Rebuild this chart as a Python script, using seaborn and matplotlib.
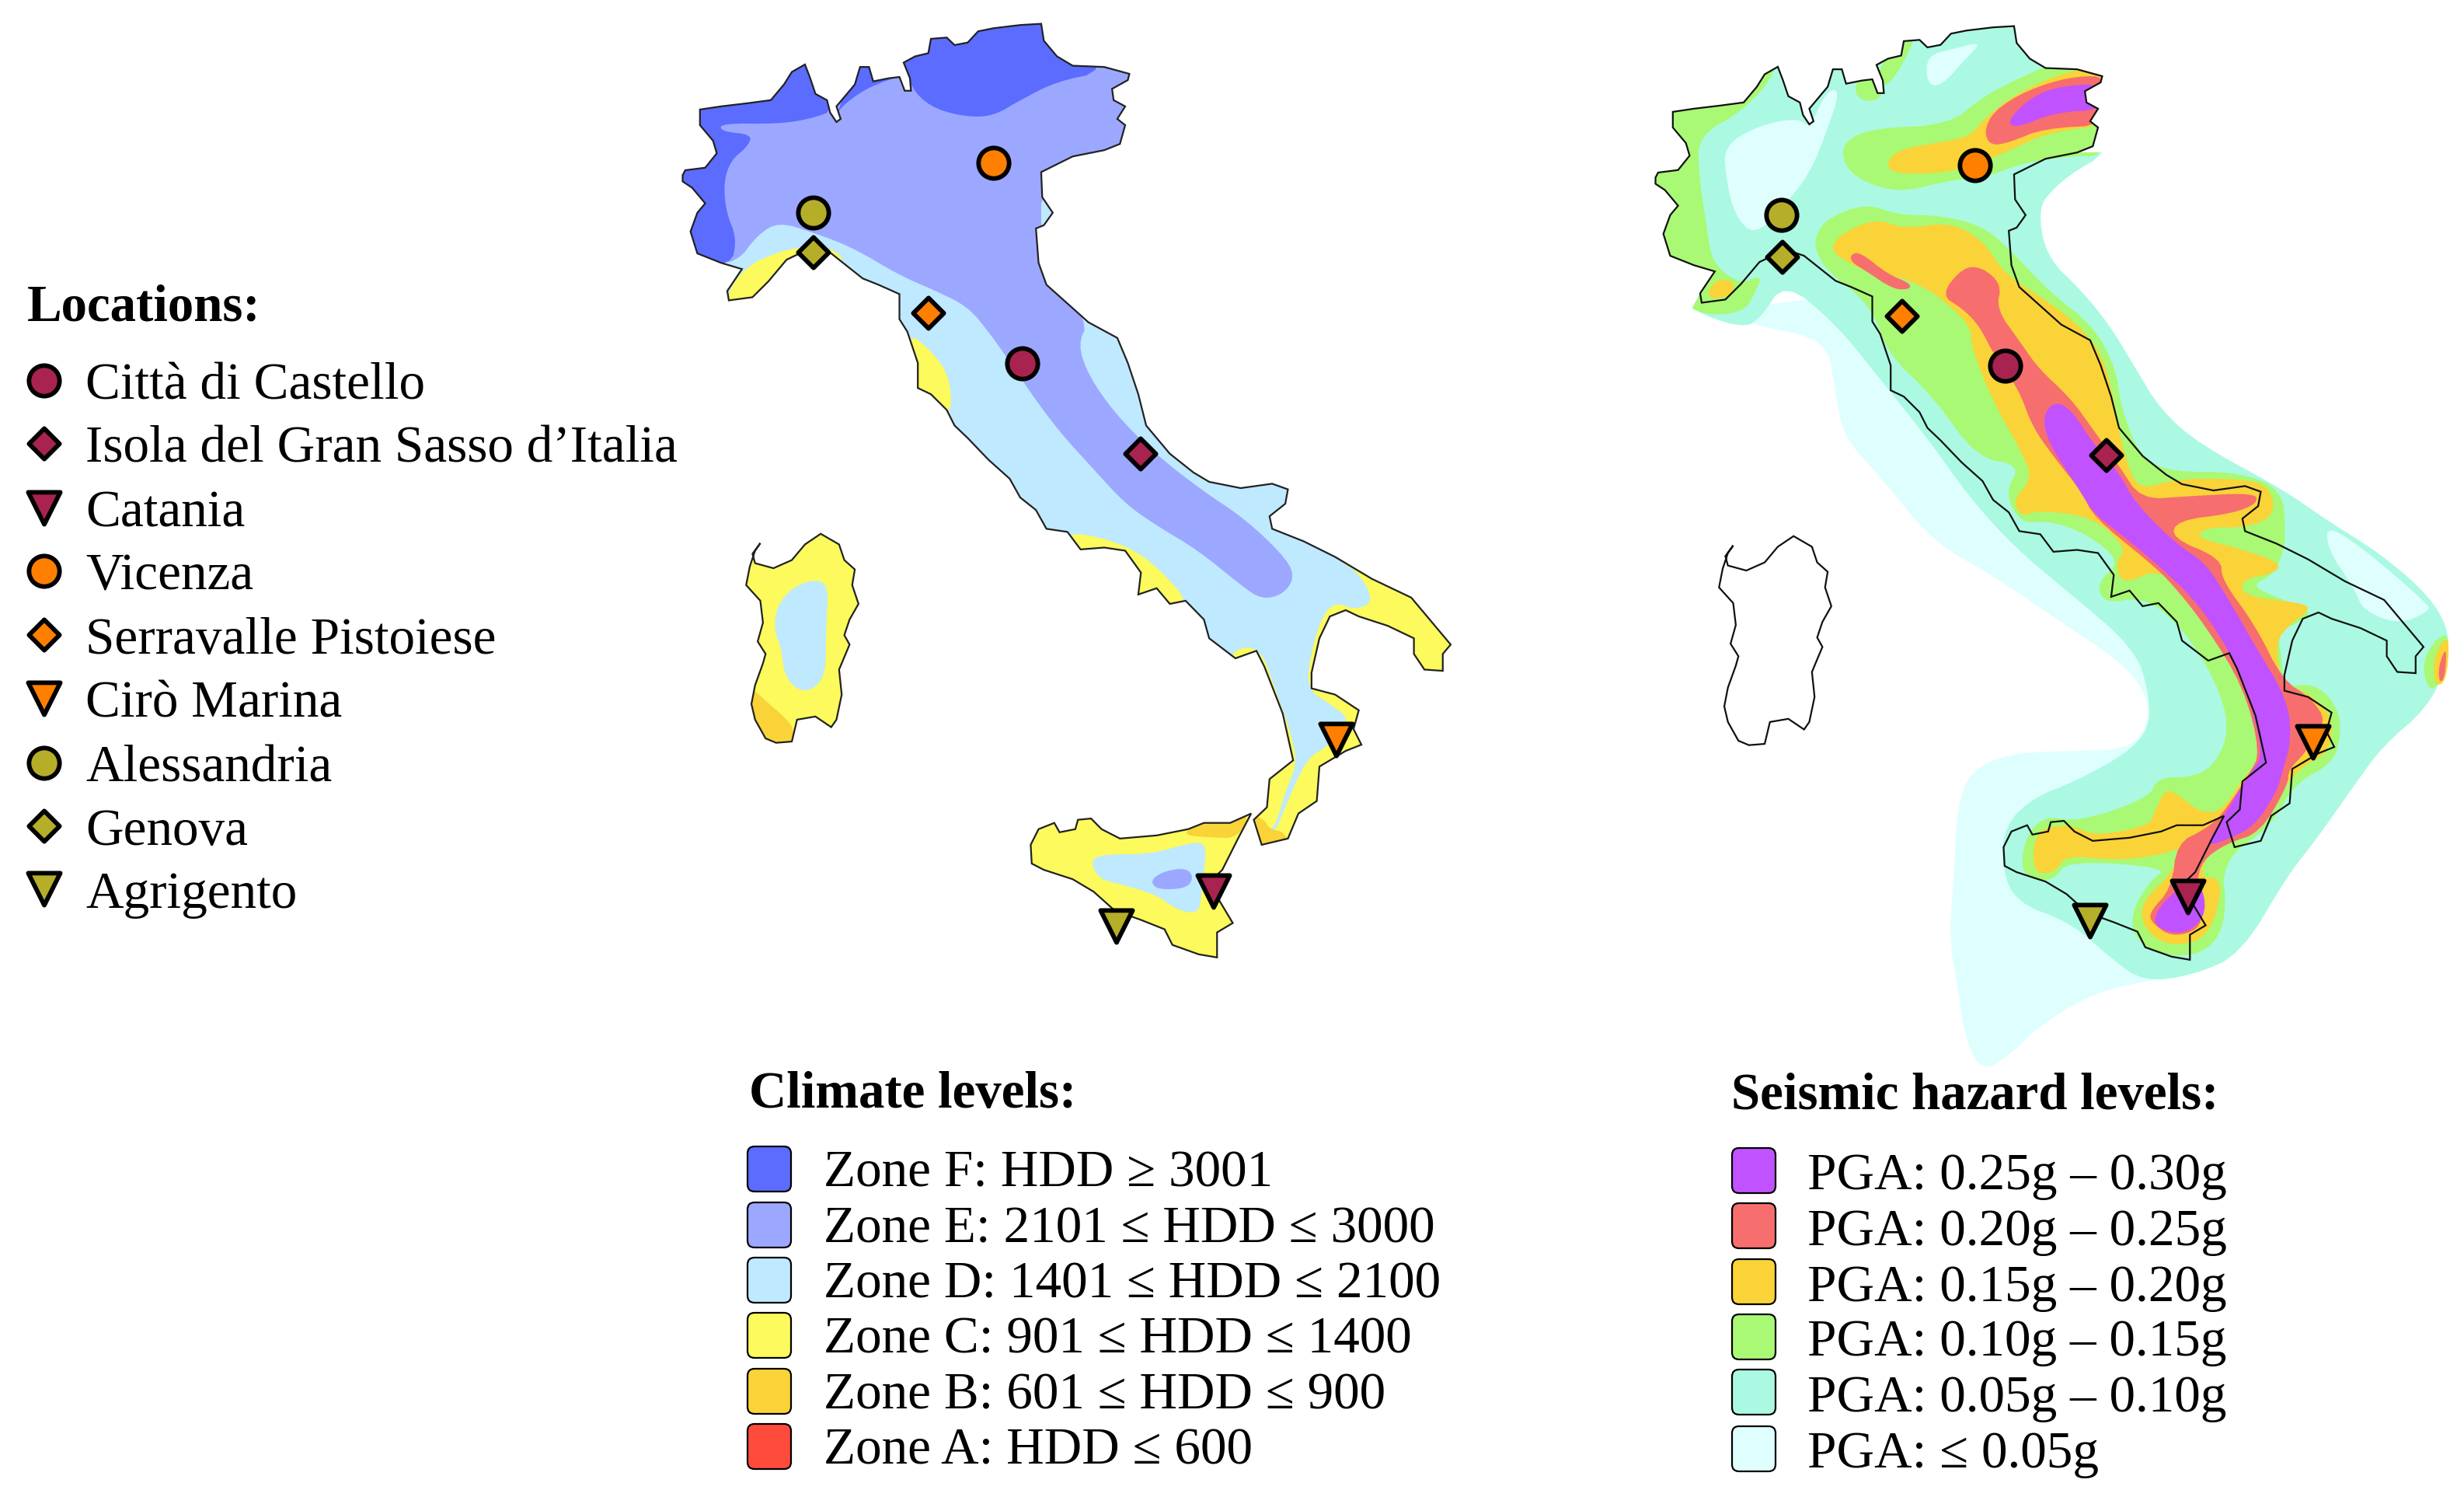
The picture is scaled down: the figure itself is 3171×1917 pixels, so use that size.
import numpy as np
import pandas as pd
import matplotlib
matplotlib.use("Agg")
import matplotlib.pyplot as plt
from matplotlib.patches import FancyBboxPatch, Polygon
import seaborn as sns

sns.set_style("white")
plt.rcParams["font.family"] = ["Liberation Serif", "DejaVu Serif"]
plt.rcParams["text.color"] = "black"

# ---------- data ----------
cities = ["Città di Castello", "Isola del Gran Sasso d’Italia", "Catania", "Vicenza",
          "Serravalle Pistoiese", "Cirò Marina", "Alessandria", "Genova", "Agrigento"]
city_colors = ["#A8234F", "#A8234F", "#A8234F", "#FF7F00", "#FF7F00", "#FF7F00",
               "#B5AE28", "#B5AE28", "#B5AE28"]
city_markers = ["o", "D", "v", "o", "D", "v", "o", "D", "v"]
left_x = [1316, 1468, 1562, 1279, 1195, 1720, 1047, 1047, 1437]
left_y = [468, 584, 1147, 210, 403, 952, 274, 325, 1192]
right_x = [2581, 2711, 2816, 2542, 2448, 2977, 2293, 2294, 2690]
right_y = [471, 586, 1154, 213, 407, 955, 277, 331, 1185]
key_y = [490, 571, 654, 735, 817, 899, 982, 1063, 1144]

climate_labels = ["Zone F: HDD ≥ 3001", "Zone E: 2101 ≤ HDD ≤ 3000", "Zone D: 1401 ≤ HDD ≤ 2100",
                  "Zone C: 901 ≤ HDD ≤ 1400", "Zone B: 601 ≤ HDD ≤ 900", "Zone A: HDD ≤ 600"]
climate_colors = ["#5B6CFF", "#9CA8FF", "#BFE9FF", "#FCFA5C", "#FAD338", "#FF4B3B"]
climate_y = [1504, 1576, 1647, 1718, 1790, 1861]
seismic_labels = ["PGA: 0.25g – 0.30g", "PGA: 0.20g – 0.25g", "PGA: 0.15g – 0.20g",
                  "PGA: 0.10g – 0.15g", "PGA: 0.05g – 0.10g", "PGA: ≤ 0.05g"]
seismic_colors = ["#C152FF", "#F76E6E", "#FAD338", "#A9F974", "#ABF9E2", "#DFFFFF"]
seismic_y = [1506, 1577, 1649, 1720, 1791, 1864]

# map outlines
mainland = [(57,280),(62,272),(100,268),(122,245),(115,225),(90,200),(90,175),(130,170),(180,165),(225,160),
 (250,135),(265,115),(290,103),(300,125),(310,150),(332,160),(338,180),(350,195),(358,190),(350,170),(370,150),
 (385,135),(395,107),(412,107),(420,130),(450,125),(470,123),(480,145),(492,145),(490,125),(478,100),(500,90),
 (525,85),(530,62),(560,60),(575,72),(600,68),(620,50),(650,45),(700,40),(740,38),(745,65),(770,90),(800,105),
 (860,107),(908,118),(905,128),(875,142),(878,160),(900,170),(885,190),(900,200),(890,230),(860,240),(800,250),
 (740,275),(742,315),(762,340),(745,360),(730,365),(735,420),(750,455),(790,485),(830,515),(885,540),(905,580),
 (925,630),(940,680),(985,725),(1030,755),(1060,770),(1120,780),(1180,773),(1210,782),(1205,805),(1175,825),
 (1180,845),(1240,865),(1300,890),(1370,925),(1445,955),(1490,1000),(1520,1030),(1505,1045),(1505,1072),
 (1470,1070),(1450,1045),(1450,1020),(1400,1000),(1345,985),(1320,975),(1290,985),(1270,1020),(1255,1075),
 (1255,1100),(1300,1110),(1345,1135),(1335,1165),(1350,1190),(1320,1200),(1270,1225),(1265,1280),(1230,1300),
 (1210,1340),(1160,1350),(1145,1310),(1170,1290),(1175,1245),(1220,1215),(1200,1140),(1165,1065),(1150,1040),
 (1110,1052),(1060,1020),(1050,990),(1015,960),(985,965),(960,940),(925,950),(930,915),(900,880),(860,875),
 (815,878),(790,850),(750,845),(730,815),(700,795),(680,765),(640,735),(600,700),(575,680),(560,655),(530,630),
 (505,620),(505,580),(485,530),(470,510),(470,470),(430,455),(400,445),(370,425),(340,405),(305,395),(255,415),
 (220,450),(190,475),(145,480),(142,465),(170,430),(130,420),(85,405),(72,370),(85,340),(100,325),(75,300),(57,290)]
sardinia = [(205,868),(190,885),(195,900),(230,908),(265,895),(290,870),(320,853),(355,870),(365,895),(385,910),
 (380,935),(392,965),(375,990),(365,1015),(375,1030),(355,1070),(360,1110),(350,1150),(340,1162),(310,1145),
 (275,1150),(265,1185),(235,1187),(215,1180),(195,1150),(188,1125),(195,1095),(210,1060),(215,1045),(200,1025),
 (210,995),(205,960),(178,935),(185,905),(195,880)]
sicily = [(720,1350),(735,1325),(765,1315),(775,1330),(805,1325),(810,1310),(835,1308),(855,1325),(890,1340),
 (960,1335),(1020,1325),(1050,1315),(1100,1315),(1140,1300),(1115,1340),(1085,1390),(1060,1410),(1080,1440),
 (1105,1475),(1075,1490),(1075,1530),(1040,1525),(990,1510),(975,1485),(930,1470),(880,1455),(840,1425),
 (800,1405),(745,1390),(722,1380)]
# the stretch of the outline that bounds the seismic map: Alps from the French border to Trieste, Ligurian end
north_border = mainland[:54]
west_border = mainland[-9:]

# climate zones
zone_e = [(60,100),(480,20),(950,20),(950,250),(740,280),(740,400),(830,515),(810,550),(830,600),(880,660),
 (950,720),(1040,780),(1130,830),(1210,895),(1222,925),(1200,950),(1160,958),(1120,935),(1040,880),(960,840),
 (900,805),(840,750),(780,695),(730,640),(690,590),(640,530),(600,490),(540,465),(470,440),(380,395),(300,370),
 (240,355),(200,375),(160,420),(100,420),(40,300)]
zone_f_west = [(30,270),(70,150),(250,90),(310,80),(350,175),(300,190),(240,198),(130,197),(130,210),(190,215),(180,235),
 (150,255),(135,290),(140,340),(160,380),(150,425),(60,420)]
zone_f_north = [(350,185),(385,100),(420,95),(480,110),(500,150),(540,175),(600,187),(650,185),(700,160),(770,130),(860,115),
 (850,20),(470,20),(480,120),(440,130),(400,145),(360,170)]
zone_c_liguria = [(130,500),(165,430),(260,395),(340,395),(370,420),(300,420),(200,490)]
zone_c_tuscany = [(485,530),(530,560),(565,600),(570,660),(540,660),(480,600)]
zone_c_campania = [(790,850),(860,860),(920,880),(965,910),(1020,960),(990,975),(930,970),(900,900),(800,880)]
zone_c_south = [(1300,895),(1340,910),(1375,960),(1340,975),(1300,962),(1275,985),(1255,1040),(1245,1100),(1290,1125),
 (1330,1150),(1290,1190),(1250,1210),(1225,1250),(1200,1300),(1185,1330),(1140,1360),(1500,1400),(1560,1100),(1560,900)]
zone_c_calabria = [(1090,1060),(1120,1032),(1160,1040),(1185,1100),(1215,1170),(1228,1220),(1205,1265),(1190,1310),
 (1175,1330),(1130,1310),(1150,1270),(1200,1200),(1150,1060)]
zone_b_calabria = [(1140,1300),(1165,1310),(1175,1325),(1205,1330),(1215,1360),(1130,1360)]
sard_d = [(235,970),(270,935),(320,925),(335,945),(330,1000),(330,1080),(300,1105),(270,1100),(250,1075),(245,1035),(232,1010)]
sard_b = [(190,1100),(215,1120),(250,1145),(270,1165),(265,1200),(180,1200),(180,1110)]
sic_b = [(1020,1325),(1050,1310),(1140,1295),(1115,1340),(1060,1338),(1015,1335)]
sic_d = [(833,1375),(860,1365),(950,1365),(1030,1345),(1055,1350),(1050,1395),(1045,1430),(1040,1460),(1000,1455),
 (960,1430),(900,1415),(850,1405)]
sic_e = [(950,1405),(975,1392),(1015,1387),(1030,1400),(1020,1418),(980,1422),(955,1418)]

# seismic levels
s0_outer = [(200,450),(300,470),(420,490),(435,560),(450,630),(520,690),(610,780),(720,830),(830,890),(960,960),
 (1000,1010),(995,1050),(960,1080),(860,1082),(750,1085),(680,1110),(655,1160),(650,1250),(640,1350),(655,1420),
 (670,1500),(700,1545),(750,1520),(800,1480),(880,1440),(950,1420),(1100,1400),(1000,1300),(1100,1000),(800,700),(500,420)]
s1_main = [(60,260),(100,130),(240,100),(330,60),(340,100),(385,140),(430,60),(470,85),(520,85),(555,25),(620,30),
 (680,10),(750,0),(790,60),(840,75),(940,85),(950,170),(915,225),(870,245),(830,270),(800,300),(815,370),(880,420),
 (930,470),(975,530),(1020,590),(1090,640),(1240,705),(1320,750),(1420,800),(1505,860),(1540,910),(1535,960),(1500,1020),
 (1420,1075),(1370,1130),(1300,1210),(1250,1260),(1165,1375),(1080,1405),(990,1415),(930,1380),(860,1330),(760,1300),
 (735,1250),(740,1190),(790,1150),(870,1125),(960,1085),(1000,1050),(1000,1000),(975,935),(850,850),(760,790),(680,720),
 (600,630),(510,540),(440,470),(345,405),(300,460),(270,472),(200,455),(150,430),(80,360),(60,300)]
s0_alps = [(235,210),(300,180),(370,170),(390,185),(420,130),(445,130),(420,190),(390,250),(340,300),(290,340),(255,310),(240,260)]
s0_north = [(600,80),(650,70),(700,60),(670,85),(625,125),(600,120)]
s0_puglia = [(1320,755),(1400,800),(1500,870),(1505,880),(1450,900),(1385,880),(1370,850),(1320,790)]
s2_west = [(60,260),(100,130),(235,120),(330,60),(330,105),(270,160),(190,195),(190,250),(205,330),(215,380),(265,410),
 (305,395),(290,425),(270,450),(200,455),(150,430),(80,350),(60,300)]
s2_n1 = [(555,50),(585,50),(530,130),(505,110)]
s2_n2 = [(470,115),(520,110),(520,145),(475,145)]
s2_veneto = [(450,205),(500,185),(640,180),(700,140),(760,115),(830,90),(950,90),(950,170),(890,200),(917,225),(860,225),
 (770,235),(710,255),(640,260),(550,278),(480,260),(450,235)]
s2_main = [(400,340),(420,315),(490,293),(550,310),(620,310),(700,325),(750,360),(820,420),(900,470),(940,530),(950,590),
 (985,660),(1040,680),(1160,680),(1240,705),(1245,770),(1240,800),(1220,830),(1180,845),(1260,870),(1295,885),(1260,900),
 (1230,910),(1240,960),(1240,990),(1300,985),(1340,1020),(1345,1060),(1330,1100),(1260,1130),(1220,1190),(1130,1240),
 (1140,1320),(1110,1370),(1040,1380),(980,1360),(965,1320),(1000,1270),(1035,1250),(850,1240),(830,1270),(770,1265),
 (775,1210),(810,1175),(870,1185),(1000,1150),(1015,1120),(1080,1120),(1120,1100),(1145,1050),(1120,980),(1055,900),
 (990,860),(920,870),(905,840),(950,810),(890,770),(820,750),(770,755),(740,710),(770,670),(690,660),(610,570),(530,510),
 (500,440),(420,390),(400,360)]
s2_tip = [(1490,960),(1510,925),(1540,910),(1535,970),(1505,1000)]
s3_liguria = [(205,420),(225,402),(255,405),(250,425),(215,432)]
s3_veneto = [(527,235),(550,215),(640,203),(680,195),(705,170),(760,135),(860,100),(930,100),(930,180),(820,190),(740,220),
 (680,240),(620,250),(540,250)]
s3_main = [(428,355),(450,335),(510,315),(560,330),(640,320),(700,345),(740,395),(800,425),(870,465),(915,510),(935,570),
 (945,620),(965,680),(985,705),(1050,690),(1165,690),(1215,700),(1228,740),(1180,760),(1100,760),(1085,775),(1160,790),
 (1235,810),(1230,825),(1165,835),(1170,860),(1290,870),(1280,885),(1260,895),(1225,925),(1240,990),(1280,995),(1330,1030),
 (1325,1085),(1270,1105),(1200,1180),(1130,1195),(1085,1265),(1135,1265),(1110,1350),(1040,1365),(990,1340),(985,1300),
 (1040,1260),(1060,1220),(1020,1232),(940,1240),(850,1232),(830,1258),(790,1258),(795,1195),(860,1188),(900,1205),
 (1000,1190),(1010,1170),(1030,1135),(1060,1150),(1090,1170),(1130,1170),(1170,1120),(1205,1090),(1190,1030),(1150,950),
 (1100,880),(1040,830),(1000,825),(990,830),(950,840),(940,810),(960,790),(900,745),(800,735),(770,745),(755,720),(790,690),
 (770,650),(720,580),(680,500),(680,470),(620,425),(560,400),(500,395),(440,370)]
s3_tip = [(1510,955),(1525,925),(1540,920),(1535,980),(1515,990)]
s4_friuli = [(703,190),(720,160),(780,130),(860,110),(930,110),(930,180),(810,185),(750,205),(715,210)]
s4_liguria = [(463,367),(480,363),(530,395),(570,408),(570,417),(540,417),(490,390),(465,378)]
s4_main = [(625,425),(665,385),(700,385),(735,410),(725,445),(770,495),(800,530),(860,575),(900,620),(945,670),(985,720),
 (1070,715),(1190,710),(1195,725),(1150,740),(1050,750),(1040,775),(1130,805),(1130,835),(1190,900),(1240,980),(1290,1005),
 (1320,1040),(1280,1085),(1250,1110),(1250,1130),(1200,1200),(1140,1215),(1095,1240),(1085,1275),(1095,1310),(1090,1340),
 (1040,1350),(1005,1330),(1000,1315),(1040,1280),(1050,1215),(1100,1195),(1130,1175),(1180,1115),(1200,1085),(1170,990),
 (1100,900),(1040,840),(1000,810),(900,745),(880,710),(830,660),(790,615),(765,560),(720,510),(695,470),(665,445)]
s4_tip = [(1520,960),(1535,930),(1532,975),(1522,985)]
s5_friuli = [(745,175),(780,145),(830,125),(920,120),(920,158),(830,162),(760,185)]
s5_main = [(808,600),(830,578),(860,590),(900,640),(945,680),(975,725),(1050,785),(1100,810),(1140,860),(1190,930),(1250,1010),
 (1255,1070),(1240,1110),(1230,1140),(1190,1190),(1140,1210),(1100,1220),(1135,1175),(1180,1115),(1205,1090),(1185,1020),
 (1160,960),(1090,870),(1010,810),(950,770),(900,740),(870,700),(820,640)]
s5_etna = [(1005,1325),(1035,1290),(1090,1265),(1105,1315),(1070,1345),(1025,1342)]

# ---------- helpers ----------
FS = 48.4
FS_BOLD = 48.2
W, H = 3171, 1917
fig = plt.figure(figsize=(W / 100, H / 100), dpi=100)
ax = fig.add_axes([0, 0, 1, 1])
ax.set_xlim(0, W)
ax.set_ylim(H, 0)
ax.axis("off")


def round_off(pts, n=2):
    p = np.asarray(pts, float)
    for _ in range(n):
        q = np.roll(p, -1, axis=0)
        p = np.column_stack([0.75 * p + 0.25 * q, 0.25 * p + 0.75 * q]).reshape(-1, 2)
    return p


def left_map(pts):
    p = np.asarray(pts, float)
    return np.column_stack([840 + p[:, 0] * 1060 / 1569, p[:, 1] * 1260 / 1565])


def right_map(pts):
    p = np.asarray(pts, float)
    return np.column_stack([2050 + p[:, 0] * 1121 / 1566, p[:, 1] * 1400 / 1568])


def fill(pts, color, clip=None, n=2, z=1):
    art = ax.add_patch(Polygon(round_off(pts, n), closed=True, facecolor=color, edgecolor="none", zorder=z))
    if clip is not None:
        art.set_clip_path(clip)
    return art


F, E, D, C, B, A = climate_colors
SHIFT = np.array([1252, 3])
# ---------- left map ----------
land = left_map(mainland)
clip_land = ax.add_patch(Polygon(land, closed=True, facecolor=D, edgecolor="none", zorder=1))
for poly, col in [(zone_e, E), (zone_f_west, F), (zone_f_north, F), (zone_c_liguria, C), (zone_c_tuscany, C),
                  (zone_c_campania, C), (zone_c_south, C), (zone_c_calabria, C), (zone_b_calabria, B)]:
    fill(left_map(poly), col, clip_land)
clip_sard = ax.add_patch(Polygon(left_map(sardinia), closed=True, facecolor=C, edgecolor="none", zorder=1))
fill(left_map(sard_d), D, clip_sard)
fill(left_map(sard_b), B, clip_sard)
clip_sic = ax.add_patch(Polygon(left_map(sicily), closed=True, facecolor=C, edgecolor="none", zorder=1))
fill(left_map(sic_b), B, clip_sic)
fill(left_map(sic_d), D, clip_sic)
fill(left_map(sic_e), E, clip_sic)
for shape in (mainland, sardinia, sicily):
    ax.add_patch(Polygon(left_map(shape), closed=True, fill=False, edgecolor="#222222", lw=1.6, zorder=3))

# ---------- right map ----------
S5, S4, S3, S2, S1, S0 = seismic_colors
seismic_bound = np.vstack([left_map(north_border) + SHIFT,
                           [[W, 190], [W, H], [2000, H], [2160, 430]],
                           left_map(west_border) + SHIFT])
bound = ax.add_patch(Polygon(seismic_bound, closed=True, facecolor="none", edgecolor="none", zorder=0))
layers = [(s0_outer, S0), (s1_main, S1), (s0_alps, S0), (s0_north, S0), (s0_puglia, S0),
          (s2_west, S2), (s2_n1, S2), (s2_n2, S2), (s2_veneto, S2), (s2_main, S2), (s2_tip, S2),
          (s3_veneto, S3), (s3_main, S3), (s3_tip, S3), (s3_liguria, S3),
          (s4_friuli, S4), (s4_liguria, S4), (s4_main, S4), (s4_tip, S4),
          (s5_friuli, S5), (s5_main, S5), (s5_etna, S5)]
for poly, col in layers:
    fill(right_map(poly), col, bound, n=2, z=2)
for shape in (mainland, sardinia, sicily):
    ax.add_patch(Polygon(left_map(shape) + SHIFT, closed=True, fill=False,
                         edgecolor="#111111", lw=1.6, zorder=3))

# ---------- markers ----------
frame = pd.DataFrame({"city": cities, "color": city_colors, "marker": city_markers,
                      "lx": left_x, "ly": left_y, "rx": right_x, "ry": right_y, "ky": key_y})
frame["kx"] = 57
sizes = {"o": 800, "D": 400, "v": 880}
palette = dict(zip(cities, city_colors))
for mk, grp in frame.groupby("marker"):
    for xc, yc in [("lx", "ly"), ("rx", "ry"), ("kx", "ky")]:
        sns.scatterplot(data=grp, x=xc, y=yc, hue="city", palette=palette, marker=mk, s=sizes[mk],
                        edgecolor="black", linewidth=4.2, legend=False, ax=ax, zorder=5)
ax.set_xlim(0, W)
ax.set_ylim(H, 0)
ax.axis("off")

# ---------- legends ----------
ax.text(35, 396, "Locations:", fontsize=FS_BOLD, fontweight="bold", va="center", ha="left")
for name, y in zip(cities, key_y):
    ax.text(110, y + 7, name, fontsize=FS, va="center", ha="left")

ax.text(964, 1409, "Climate levels:", fontsize=FS_BOLD, fontweight="bold", va="center", ha="left")
for lab, col, y in zip(climate_labels, climate_colors, climate_y):
    ax.add_patch(FancyBboxPatch((969, y - 22), 42, 44, boxstyle="round,pad=7,rounding_size=9",
                                facecolor=col, edgecolor="black", lw=1.6, zorder=4))
    ax.text(1060, y + 6, lab, fontsize=FS, va="center", ha="left")

ax.text(2228, 1411, "Seismic hazard levels:", fontsize=FS_BOLD, fontweight="bold", va="center", ha="left")
for lab, col, y in zip(seismic_labels, seismic_colors, seismic_y):
    ax.add_patch(FancyBboxPatch((2236, y - 22), 42, 44, boxstyle="round,pad=7,rounding_size=9",
                                facecolor=col, edgecolor="black", lw=1.6, zorder=4))
    ax.text(2326, y + 8, lab, fontsize=FS, va="center", ha="left")

fig.savefig("out.png", dpi=100, facecolor="white")
